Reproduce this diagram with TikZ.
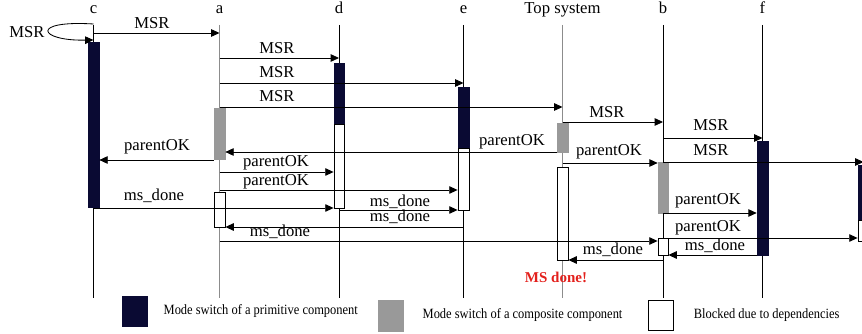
\documentclass[tikz,border=0pt]{standalone}
\usepackage{fontspec}
\setmainfont{Liberation Serif}
\usetikzlibrary{arrows.meta, fit, positioning}
\definecolor{primfill}{HTML}{0A0A33}
\definecolor{compfill}{HTML}{999999}
\definecolor{lifegray}{HTML}{8C8C8C}
\definecolor{donered}{HTML}{E3201C}

\begin{document}
\begin{tikzpicture}[x = 0.6pt, y = -0.6pt,
  lifeline/.style = {draw = black, line width = 0.5pt},
  graylife/.style = {draw = lifegray, line width = 0.7pt},
  msg/.style = {draw = black, line width = 0.5pt, -{Triangle[length = 5pt, width = 4.5pt]}},
  prim/.style = {fill = primfill, draw = primfill, inner sep = 0pt},
  comp/.style = {fill = compfill, draw = compfill, inner sep = 0pt},
  blocked/.style = {fill = white, draw = black, line width = 0.5pt, inner sep = 0pt},
  lbl/.style = {inner sep = 0pt, font = \fontsize{10}{12}\selectfont},
  head/.style = {anchor = base, inner sep = 0pt, font = \fontsize{10}{12}\selectfont},
  keytext/.style = {inner sep = 0pt, font = \fontsize{8.5}{10}\selectfont}]
\useasboundingbox (0, 0) rectangle (862, 334);
\clip (0, 0) rectangle (862, 334);

% lifelines
\coordinate (c) at (93.5, 25);
\coordinate (a) at (219.5, 25);
\coordinate (d) at (339, 25);
\coordinate (e) at (463.5, 25);
\coordinate (top) at (562.5, 25);
\coordinate (b) at (663, 25);
\coordinate (f) at (762.5, 25);
\coordinate (g) at (863.5, 25);
\node[head] (cname) at (93.5, 14) {c};
\node[head] (aname) at (219.5, 14) {a};
\node[head] (dname) at (339, 14) {d};
\node[head] (ename) at (463.5, 14) {e};
\node[head] (topname) at (562.5, 14) {Top system};
\node[head] (bname) at (663, 14) {b};
\node[head] (fname) at (762.5, 14) {f};
\draw[lifeline] (c) -- (c |- 0, 298);
\draw[graylife] (a) -- (a |- 0, 298);
\draw[lifeline] (d) -- (d |- 0, 298);
\draw[lifeline] (e) -- (e |- 0, 298);
\draw[graylife] (top) -- (top |- 0, 298);
\draw[lifeline] (b) -- (b |- 0, 298);
\draw[lifeline] (f) -- (f |- 0, 298);
\draw[lifeline] (g) -- (g |- 0, 298);

% activation bars
\node[prim, fit = {(88, 42) (99, 207)}] (cprim) {};
\node[prim, fit = {(334, 63) (344, 124)}] (dprim) {};
\node[blocked, fit = {(334, 124) (344, 208)}] (dblk) {};
\node[prim, fit = {(458, 87) (469, 148)}] (eprim) {};
\node[blocked, fit = {(458, 148) (469, 210)}] (eblk) {};
\node[comp, fit = {(214, 108) (225, 159)}] (acomp) {};
\node[blocked, fit = {(214, 192) (225, 227)}] (ablk) {};
\node[comp, fit = {(557, 123) (568, 152)}] (topcomp) {};
\node[blocked, fit = {(557, 167) (568, 260)}] (topblk) {};
\node[comp, fit = {(658, 162) (668, 213)}] (bcomp) {};
\node[blocked, fit = {(658, 238) (668, 255)}] (bblk) {};
\node[prim, fit = {(757, 141) (768, 255)}] (fprim) {};
\node[prim, fit = {(858, 165) (869, 220)}] (gprim) {};
\node[blocked, fit = {(858, 220) (869, 241)}] (gblk) {};

% mode switch requests
\draw[msg] (c |- 0, 24) .. controls (30, 20) and (38, 41) .. (c |- 0, 40);
\node[lbl] (lself) at (27, 32) {MSR};
\draw[msg] (c |- 0, 33) -- (a |- 0, 33);
\node[lbl] (lca) at (152, 23) {MSR};
\draw[msg] (a |- 0, 58) -- (d |- 0, 58);
\node[lbl] (lad) at (277, 48) {MSR};
\draw[msg] (a |- 0, 83) -- (e |- 0, 83);
\node[lbl] (lae) at (277, 72) {MSR};
\draw[msg] (a |- 0, 107) -- (top |- 0, 107);
\node[lbl] (latop) at (277, 96) {MSR};
\draw[msg] (top |- 0, 122) -- (b |- 0, 122);
\node[lbl] (ltopb) at (607, 112) {MSR};
\draw[msg] (b |- 0, 138) -- (f |- 0, 138);
\node[lbl] (lbf) at (711, 125) {MSR};
\draw[msg] (b |- 0, 162) -- (g |- 0, 162);
\node[lbl] (lbg) at (711, 150) {MSR};

% parent acknowledgements
\draw[msg] (topcomp.west |- 0, 152) -- (acomp.east |- 0, 152);
\node[lbl] (ltopa) at (512, 142) {parentOK};
\draw[msg] (acomp.west |- 0, 160) -- (cprim.east |- 0, 160);
\node[lbl] (lac) at (157, 147) {parentOK};
\draw[msg] (a |- 0, 172) -- (dblk.west |- 0, 172);
\node[lbl] (lokd) at (276, 163) {parentOK};
\draw[msg] (a |- 0, 190) -- (eblk.west |- 0, 190);
\node[lbl] (loke) at (276, 182) {parentOK};
\draw[msg] (top |- 0, 163) -- (bcomp.west |- 0, 163);
\node[lbl] (lokb) at (609, 152) {parentOK};
\draw[msg] (b |- 0, 213) -- (fprim.west |- 0, 213);
\node[lbl] (lokf) at (708, 201) {parentOK};
\draw[msg] (b |- 0, 238) -- (gblk.west |- 0, 238);
\node[lbl] (lokg) at (708, 228) {parentOK};

% completion messages
\draw[msg] (c |- 0, 208) -- (dblk.west |- 0, 208);
\node[lbl] (ldone1) at (154, 196) {ms\_done};
\draw[msg] (d |- 0, 210) -- (eblk.west |- 0, 210);
\node[lbl] (ldone2) at (400, 202) {ms\_done};
\draw[msg] (e |- 0, 227) -- (ablk.east |- 0, 227);
\node[lbl] (ldone3) at (400, 217) {ms\_done};
\draw[msg] (a |- 0, 241) -- (bblk.west |- 0, 241);
\node[lbl] (ldone4) at (280, 232) {ms\_done};
\draw[msg] (fprim.west |- 0, 255) -- (bblk.east |- 0, 255);
\node[lbl] (ldone5) at (715, 246) {ms\_done};
\draw[msg] (b |- 0, 260) -- (topblk.east |- 0, 260);
\node[lbl] (ldone6) at (613, 250) {ms\_done};
\node[lbl, text = donered, font = \fontsize{9}{10}\selectfont\bfseries] (msdone) at (556, 277) {MS done!};

% legend
\node[prim, fit = {(122, 296) (147, 326)}] (keyprim) {};
\node[keytext, right = 9.6pt of keyprim] (keyprimtext) {\scalebox{0.88}[1]{Mode switch of a primitive component}};
\node[comp, fit = {(378, 300) (403, 331)}] (keycomp) {};
\node[keytext, right = 11.4pt of keycomp] (keycomptext) {\scalebox{0.88}[1]{Mode switch of a composite component}};
\node[blocked, fit = {(648, 300) (673, 330)}] (keyblk) {};
\node[keytext, right = 12pt of keyblk] (keyblktext) {\scalebox{0.88}[1]{Blocked due to dependencies}};
\end{tikzpicture}
\end{document}
